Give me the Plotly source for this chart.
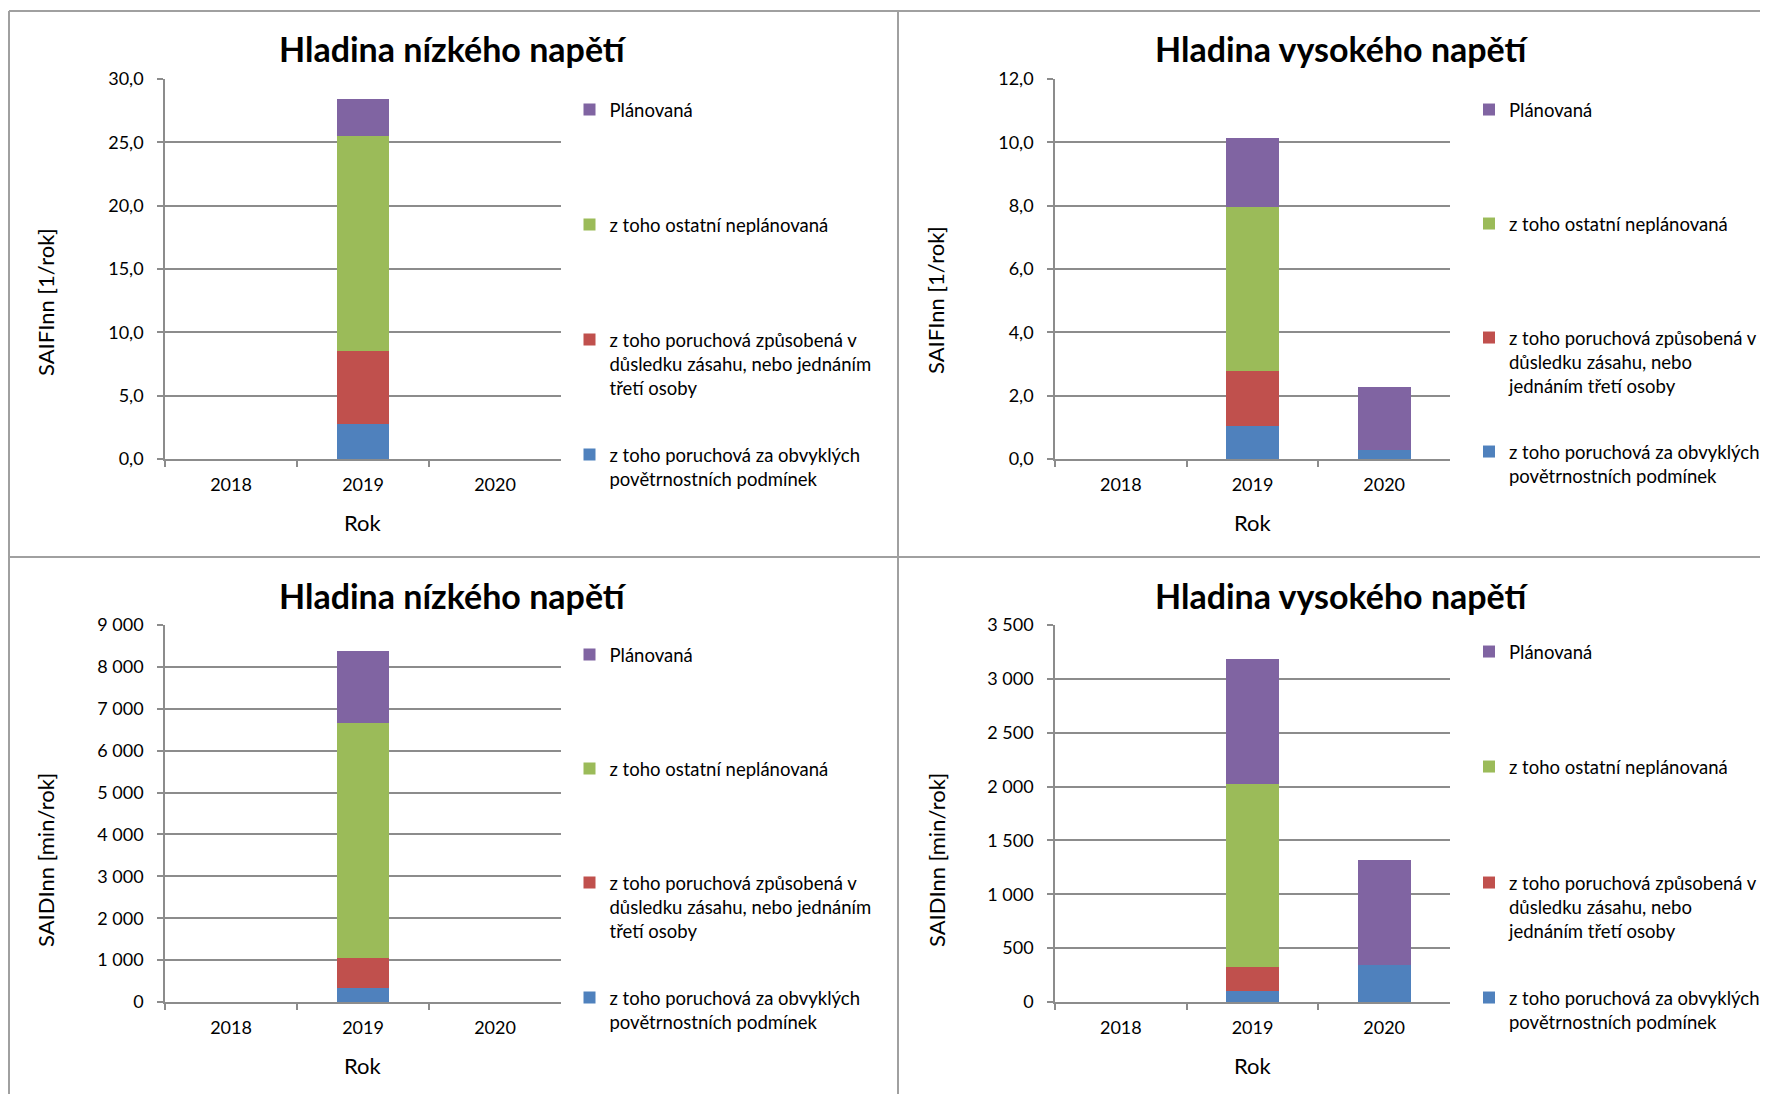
import plotly.graph_objects as go

W, H = 1768, 1094
OX, OY = 8, 8  # page body margin offset

categories = ["2018", "2019", "2020"]

series_names_left = [
    "z toho poruchová za obvyklých<br>povětrnostních podmínek",
    "z toho poruchová způsobená v<br>důsledku zásahu, nebo jednáním<br>třetí osoby",
    "z toho ostatní neplánovaná",
    "Plánovaná",
]
series_names_right = [
    "z toho poruchová za obvyklých<br>povětrnostních podmínek",
    "z toho poruchová způsobená v<br>důsledku zásahu, nebo<br>jednáním třetí osoby",
    "z toho ostatní neplánovaná",
    "Plánovaná",
]
colors = ["#4F81BD", "#C0504D", "#9BBB59", "#8064A2"]

# SAIFI nn - nízké napětí
saifi_nn_weather = [None, 2.8, None]
saifi_nn_third = [None, 5.7, None]
saifi_nn_other = [None, 17.0, None]
saifi_nn_planned = [None, 2.95, None]

# SAIFI nn - vysoké napětí
saifi_vn_weather = [None, 1.03, 0.28]
saifi_vn_third = [None, 1.74, None]
saifi_vn_other = [None, 5.18, None]
saifi_vn_planned = [None, 2.18, 1.99]

# SAIDI nn - nízké napětí
saidi_nn_weather = [None, 330, None]
saidi_nn_third = [None, 720, None]
saidi_nn_other = [None, 5605, None]
saidi_nn_planned = [None, 1716, None]

# SAIDI nn - vysoké napětí
saidi_vn_weather = [None, 104, 345]
saidi_vn_third = [None, 220, None]
saidi_vn_other = [None, 1698, None]
saidi_vn_planned = [None, 1163, 972]

titles = ["Hladina nízkého napětí", "Hladina vysokého napětí",
          "Hladina nízkého napětí", "Hladina vysokého napětí"]
ytitles = ["SAIFInn [1/rok]", "SAIFInn [1/rok]", "SAIDInn [min/rok]", "SAIDInn [min/rok]"]
xtitle = "Rok"

FONT = "Lato"
GRID = "#8C8C8C"

def px_x(p):
    return (p - OX) / W

def px_y(p):
    return 1 - (p - OY) / H

panels = [
    dict(data=[saifi_nn_weather, saifi_nn_third, saifi_nn_other, saifi_nn_planned],
         names=series_names_left, x0=165, x1=561, y0=79, y1=459,
         rng=[0, 30], dtick=5, fmt=".1f",
         title_xy=(453, 48), ytitle_xy=(45, 302), rok_y=522,
         leg_x=569.5, leg_y=[110, 225, 340, 455]),
    dict(data=[saifi_vn_weather, saifi_vn_third, saifi_vn_other, saifi_vn_planned],
         names=series_names_right, x0=1055, x1=1450, y0=79, y1=459,
         rng=[0, 12], dtick=2, fmt=".1f",
         title_xy=(1342, 48), ytitle_xy=(936, 300), rok_y=522,
         leg_x=1469, leg_y=[110, 224, 338, 452]),
    dict(data=[saidi_nn_weather, saidi_nn_third, saidi_nn_other, saidi_nn_planned],
         names=series_names_left, x0=165, x1=561, y0=625, y1=1002,
         rng=[0, 9000], dtick=1000, fmt=",.0f",
         title_xy=(453, 595), ytitle_xy=(45, 860), rok_y=1065,
         leg_x=569.5, leg_y=[655, 769, 883, 998]),
    dict(data=[saidi_vn_weather, saidi_vn_third, saidi_vn_other, saidi_vn_planned],
         names=series_names_right, x0=1055, x1=1450, y0=625, y1=1002,
         rng=[0, 3500], dtick=500, fmt=",.0f",
         title_xy=(1342, 595), ytitle_xy=(936, 860), rok_y=1065,
         leg_x=1469, leg_y=[652, 767, 883, 998]),
]

fig = go.Figure()
layout = dict(
    width=W, height=H, margin=dict(l=0, r=0, t=0, b=0, autoexpand=False),
    paper_bgcolor="white", plot_bgcolor="white",
    barmode="stack", bargap=0.6, separators=", ",
    font=dict(family=FONT, size=18, color="black"),
    showlegend=True,
)
annotations = []
legend_idx = 0
for i, p in enumerate(panels):
    ax = "" if i == 0 else str(i + 1)
    for s in range(4):
        legend_idx += 1
        lname = "legend" if legend_idx == 1 else f"legend{legend_idx}"
        fig.add_trace(go.Bar(
            x=categories, y=p["data"][s], name=p["names"][s],
            marker=dict(color=colors[s], line=dict(width=0)),
            xaxis="x" + ax, yaxis="y" + ax, legend=lname,
        ))
        # legend order as in the original: top item = last stacked series
        layout[lname] = dict(
            x=px_x(p["leg_x"]), y=px_y(p["leg_y"][3 - s] - 19),
            xanchor="left", yanchor="top",
            bgcolor="rgba(0,0,0,0)", borderwidth=0,
            font=dict(family=FONT, size=18.5, color="black"),
            valign="top", itemwidth=30,
        )
    layout["xaxis" + ax] = dict(
        domain=[px_x(p["x0"]), px_x(p["x1"])], anchor="y" + ax,
        type="category", categoryorder="array", categoryarray=categories,
        showline=True, linecolor=GRID, linewidth=1.5,
        ticks="outside", ticklen=6, tickcolor=GRID, tickwidth=1.5,
        tickson="boundaries", showgrid=False, ticklabelstandoff=9,
        tickfont=dict(family=FONT, size=18, color="black"), fixedrange=True,
    )
    layout["yaxis" + ax] = dict(
        domain=[px_y(p["y1"]), px_y(p["y0"])], anchor="x" + ax,
        range=p["rng"], dtick=p["dtick"], tick0=0, tickformat=p["fmt"],
        showline=True, linecolor=GRID, linewidth=1.5,
        ticks="outside", ticklen=6, tickcolor=GRID, tickwidth=1.5,
        showgrid=True, gridcolor=GRID, gridwidth=1.5, zeroline=False,
        ticklabelstandoff=10,
        tickfont=dict(family=FONT, size=18, color="black"), fixedrange=True,
    )
    annotations.append(dict(
        text="<b>" + titles[i] + "</b>", x=px_x(p["title_xy"][0]), y=px_y(p["title_xy"][1]),
        xref="paper", yref="paper", xanchor="center", yanchor="middle",
        showarrow=False, font=dict(family=FONT, size=34, color="black"),
    ))
    annotations.append(dict(
        text=ytitles[i], x=px_x(p["ytitle_xy"][0]), y=px_y(p["ytitle_xy"][1]),
        xref="paper", yref="paper", xanchor="center", yanchor="middle",
        textangle=-90, showarrow=False, font=dict(family=FONT, size=22, color="black"),
    ))
    annotations.append(dict(
        text=xtitle, x=px_x((p["x0"] + p["x1"]) / 2), y=px_y(p["rok_y"]),
        xref="paper", yref="paper", xanchor="center", yanchor="middle",
        showarrow=False, font=dict(family=FONT, size=22, color="black"),
    ))

BORDER = "#A0A0A0"
shapes = [
    dict(type="line", xref="paper", yref="paper", x0=px_x(9), x1=1, y0=px_y(11), y1=px_y(11),
         line=dict(color=BORDER, width=2)),
    dict(type="line", xref="paper", yref="paper", x0=px_x(9), x1=px_x(9), y0=px_y(11), y1=0,
         line=dict(color=BORDER, width=2)),
    dict(type="line", xref="paper", yref="paper", x0=px_x(898), x1=px_x(898), y0=px_y(11), y1=0,
         line=dict(color=BORDER, width=2)),
    dict(type="line", xref="paper", yref="paper", x0=px_x(9), x1=1, y0=px_y(557), y1=px_y(557),
         line=dict(color=BORDER, width=2)),
]
layout["annotations"] = annotations
layout["shapes"] = shapes
fig.update_layout(**layout)
fig.write_html("out.html")
